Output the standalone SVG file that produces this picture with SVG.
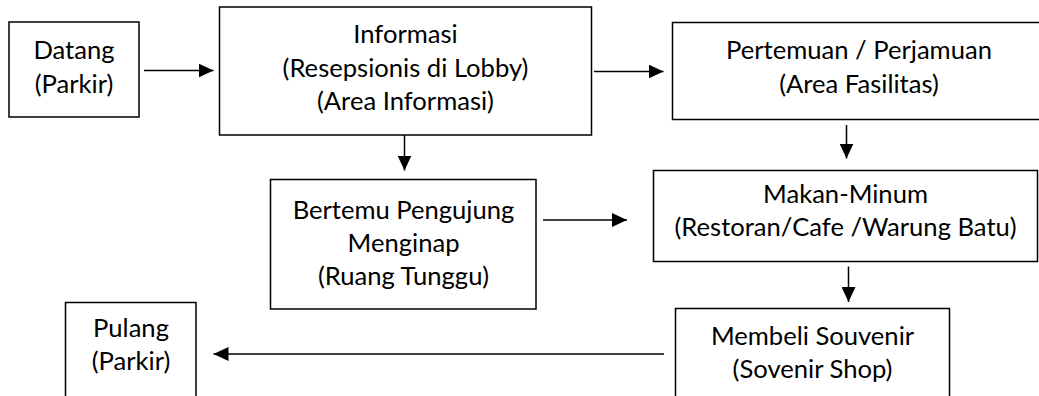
<svg xmlns="http://www.w3.org/2000/svg" width="1039" height="396" viewBox="0 0 1039 396">
<style>
.box{fill:#fff;stroke:#000;stroke-width:1.5}
.t{font-family:Lato,"Open Sans",sans-serif;font-size:25.6px;fill:#000;text-anchor:middle}
.c{stroke:#000;stroke-width:1.5;fill:none;marker-end:url(#ah)}
</style>
<defs>
<marker id="ah" markerUnits="userSpaceOnUse" markerWidth="16" markerHeight="14" refX="15" refY="7" orient="auto">
<path d="M0,0 L15,7 L0,14 Z" fill="#000"/>
</marker>
</defs>
<rect width="1039" height="396" fill="#fff"/>
<g id="connectors">
<line class="c" x1="144" y1="70.5" x2="213.5" y2="70.5"/>
<line class="c" x1="594" y1="71.5" x2="663.5" y2="71.5"/>
<line class="c" x1="404.5" y1="135" x2="404.5" y2="170.5"/>
<line class="c" x1="846.5" y1="125" x2="846.5" y2="158.5"/>
<line class="c" x1="543" y1="220" x2="627" y2="220"/>
<line class="c" x1="848.5" y1="266.5" x2="848.5" y2="302"/>
<line class="c" x1="664" y1="354" x2="213.5" y2="354"/>
</g>
<g id="datang">
<rect class="box" x="9" y="22" width="130" height="95"/>
<text class="t" x="74" y="59.3">Datang</text>
<text class="t" x="74" y="92.8">(Parkir)</text>
</g>
<g id="informasi">
<rect class="box" x="219.5" y="7" width="372" height="128"/>
<text class="t" x="405.5" y="43.3">Informasi</text>
<text class="t" x="405.5" y="76.6">(Resepsionis di Lobby)</text>
<text class="t" x="405.5" y="110">(Area Informasi)</text>
</g>
<g id="pertemuan">
<rect class="box" x="672.5" y="22.5" width="380" height="97"/>
<text class="t" x="859" y="59.3">Pertemuan / Perjamuan</text>
<text class="t" x="859" y="92.5">(Area Fasilitas)</text>
</g>
<g id="bertemu">
<rect class="box" x="270.5" y="179.5" width="265.5" height="129.5"/>
<text class="t" x="403.5" y="219">Bertemu Pengujung</text>
<text class="t" x="403.5" y="252">Menginap</text>
<text class="t" x="403.5" y="285">(Ruang Tunggu)</text>
</g>
<g id="makan">
<rect class="box" x="653.5" y="170.5" width="384" height="91"/>
<text class="t" x="845.5" y="202.7">Makan-Minum</text>
<text class="t" x="845.5" y="235.5">(Restoran/Cafe /Warung Batu)</text>
</g>
<g id="souvenir">
<rect class="box" x="675.5" y="308.5" width="274" height="100"/>
<text class="t" x="812.5" y="345">Membeli Souvenir</text>
<text class="t" x="812.5" y="377.5">(Sovenir Shop)</text>
</g>
<g id="pulang">
<rect class="box" x="65.5" y="302.5" width="130.5" height="100"/>
<text class="t" x="131" y="336.7">Pulang</text>
<text class="t" x="131" y="370">(Parkir)</text>
</g>
</svg>
